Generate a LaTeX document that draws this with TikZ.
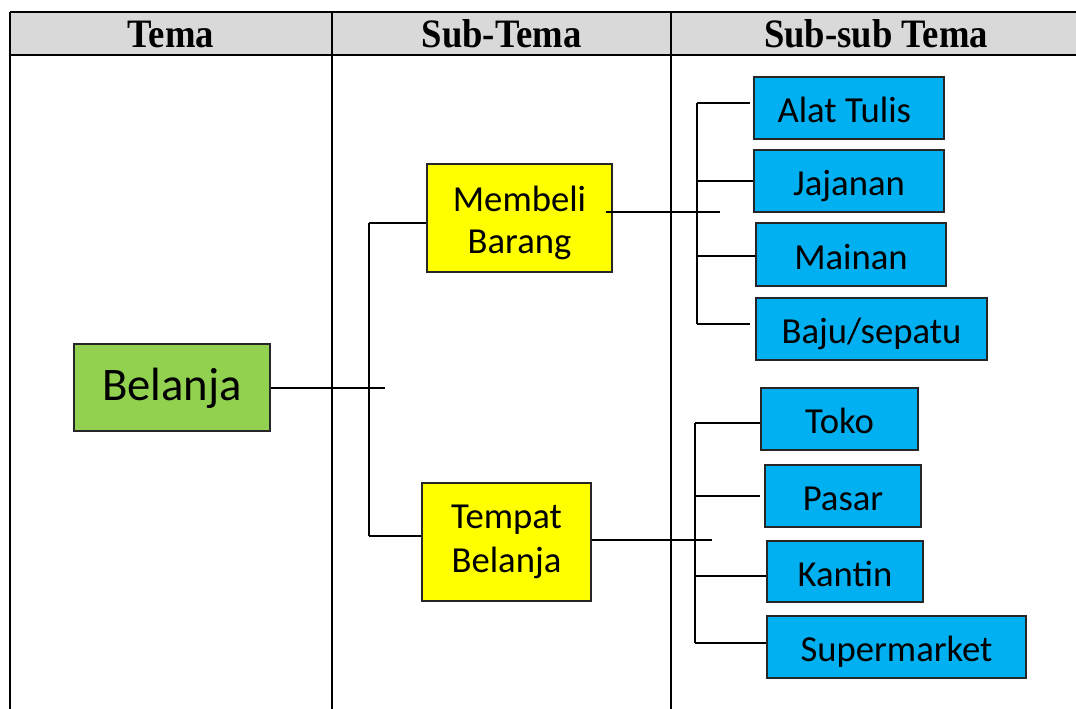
\documentclass[tikz,border=0pt]{standalone}
\usepackage{fontspec}
\setmainfont{Carlito}
\newfontfamily\hdrfont{Liberation Serif}
\definecolor{hdrgray}{HTML}{D9D9D9}
\definecolor{leafblue}{HTML}{00B0F0}
\definecolor{rootgreen}{HTML}{92D050}
\definecolor{subyellow}{HTML}{FFFF00}
\definecolor{edgegray}{HTML}{262626}
\tikzset{
  tbl/.style={line width=1.6pt, black},
  conn/.style={line width=1.1pt, black},
  boxbase/.style={draw=edgegray, line width=1.1pt, inner sep=0pt, align=center},
  rootbox/.style={boxbase, fill=rootgreen, font=\fontsize{35}{40}\selectfont, text height=26pt, text depth=6.5pt},
  subbox/.style={boxbase, fill=subyellow},
  leafbox/.style={boxbase, fill=leafblue, font=\fontsize{27.5}{31.5}\selectfont, text height=24pt, text depth=1.5pt},
  hdrtext/.style={font=\hdrfont\bfseries\fontsize{27.5}{31}\selectfont, inner sep=0pt, anchor=base}
}
\begin{document}
\begin{tikzpicture}[x=0.75pt, y=-0.75pt]
\useasboundingbox (0,0) rectangle (1076,709);
% header
\fill[hdrgray] (10,12) rectangle (1076,55);
\draw[tbl] (10,12) -- (1076,12);
\draw[tbl] (10,55) -- (1076,55);
\draw[tbl] (10,12) -- (10,709);
\draw[tbl] (332,12) -- (332,709);
\draw[tbl] (671,12) -- (671,709);
\node[hdrtext] (h1) at (171,48) {\scalebox{1}[1.1]{Tema}};
\node[hdrtext] (h2) at (501.5,48) {\scalebox{1}[1.1]{Sub-Tema}};
\node[hdrtext] (h3) at (876,48) {\scalebox{1}[1.1]{Sub-sub Tema}};
% boxes
\node[rootbox, minimum width=147pt, minimum height=65.25pt] (bel) at (172,387.5) {Belanja};
\node[subbox, font=\fontsize{27.5}{32}\selectfont,
      minimum width=138.75pt, minimum height=81pt] (mb) at (519.5,218) {\rule{0pt}{26.5pt}Membeli\\Barang};
\node[subbox, font=\fontsize{27.5}{33}\selectfont,
      minimum width=126.75pt, minimum height=88.5pt] (tb) at (506.5,542) {Tempat\\Belanja};
\node[leafbox, minimum width=142.5pt, minimum height=46.5pt] (at) at (849,108) {Alat Tulis\hspace{7pt}};
\node[leafbox, minimum width=142.5pt, minimum height=46.5pt] (jj) at (849,181) {Jajanan};
\node[leafbox, minimum width=142.5pt, minimum height=47.25pt] (mn) at (851,254.5) {Mainan};
\node[leafbox, minimum width=173.25pt, minimum height=46.5pt] (bs) at (871.5,329) {Baju/sepatu};
\node[leafbox, minimum width=117.75pt, minimum height=46.5pt] (tk) at (839.5,419) {Toko};
\node[leafbox, minimum width=117pt, minimum height=46.5pt] (ps) at (843,496) {Pasar};
\node[leafbox, minimum width=117pt, minimum height=45.75pt] (kt) at (845,571.5) {Kantin};
\node[leafbox, minimum width=194.25pt, minimum height=46.5pt] (sm) at (896.5,647) {Supermarket};
% connectors: root to sub
\coordinate (j1) at (385,388);
\coordinate (t1) at (369,223);
\coordinate (t2) at (369,536);
\draw[conn] (bel.east |- j1) -- (j1);
\draw[conn] (t1) -- (t2);
\draw[conn] (t1) -- (t1 -| mb.west);
\draw[conn] (t2) -- (t2 -| tb.west);
% upper bracket
\coordinate (m1) at (720,212);
\draw[conn] ([xshift=-5.25pt]m1 -| mb.east) -- (m1);
\coordinate (u1) at (697,103);
\coordinate (u2) at (697,181);
\coordinate (u3) at (697,256);
\coordinate (u4) at (697,324);
\draw[conn] (u1) -- (u4);
\draw[conn] (u1) -- ([xshift=-2.25pt]u1 -| at.west);
\draw[conn] (u2) -- (u2 -| jj.west);
\draw[conn] (u3) -- (u3 -| mn.west);
\draw[conn] (u4) -- ([xshift=-3.75pt]u4 -| bs.west);
% lower bracket
\coordinate (m2) at (712,540);
\draw[conn] (tb.east |- m2) -- (m2);
\coordinate (l1) at (695,423);
\coordinate (l2) at (695,496);
\coordinate (l3) at (695,576);
\coordinate (l4) at (695,643);
\draw[conn] (l1) -- (l4);
\draw[conn] (l1) -- (l1 -| tk.west);
\draw[conn] (l2) -- ([xshift=-3pt]l2 -| ps.west);
\draw[conn] (l3) -- (l3 -| kt.west);
\draw[conn] (l4) -- (l4 -| sm.west);
\end{tikzpicture}
\end{document}
